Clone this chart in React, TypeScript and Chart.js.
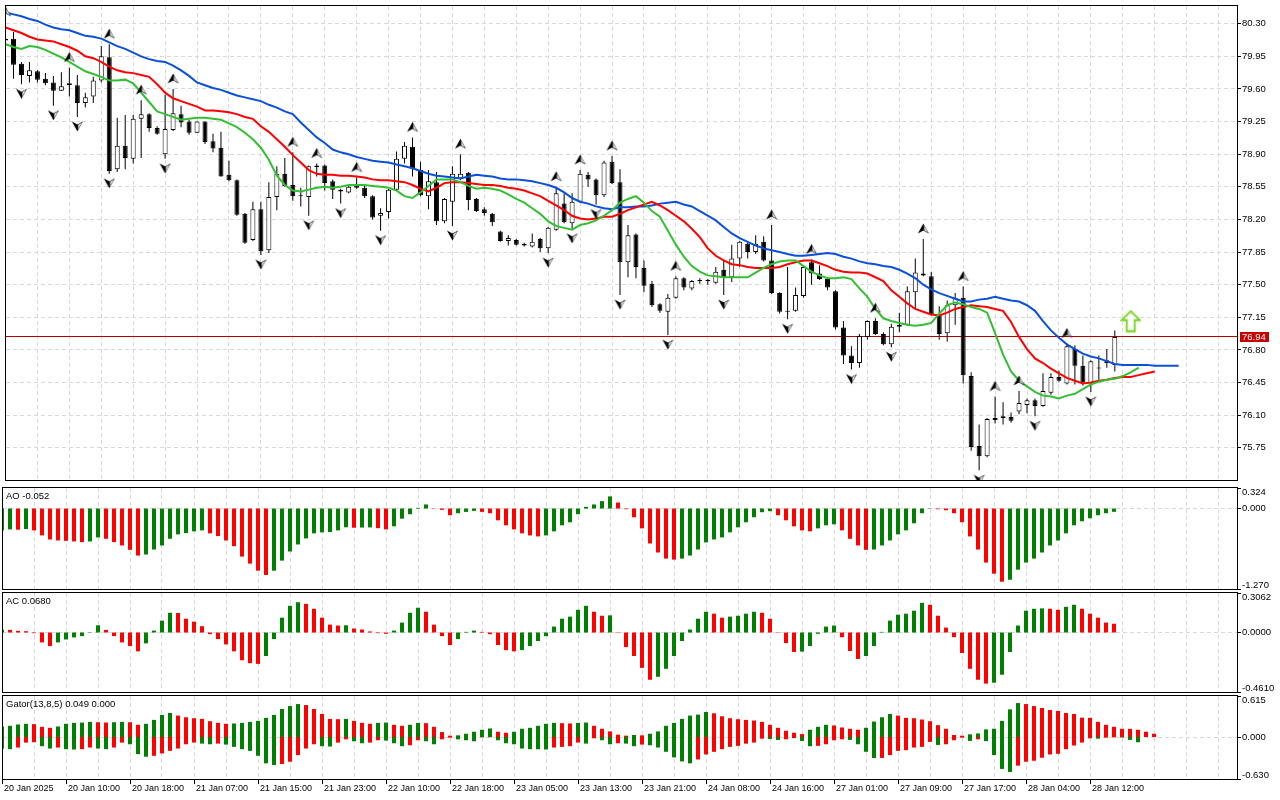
import { useEffect, useRef } from "react"
import { Chart, registerables } from "chart.js"

Chart.register(...registerables)

// hourly bars, 20 Jan 2025 -> 28 Jan 2025 (first bar is cut by the left edge)
const timeLabels = [
  "20 Jan 2025", "20 Jan 10:00", "20 Jan 18:00", "21 Jan 07:00", "21 Jan 15:00", "21 Jan 23:00",
  "22 Jan 10:00", "22 Jan 18:00", "23 Jan 05:00", "23 Jan 13:00", "23 Jan 21:00", "24 Jan 08:00",
  "24 Jan 16:00", "27 Jan 01:00", "27 Jan 09:00", "27 Jan 17:00", "28 Jan 04:00", "28 Jan 12:00",
]

const opens = [
  80.12, 80.14, 79.87, 79.74, 79.79, 79.71, 79.67, 79.58, 79.66, 79.64,
  79.45, 79.52, 79.69, 79.94, 78.74, 78.99, 78.85, 79.28, 79.33, 79.18,
  78.90, 79.16, 79.33, 79.25, 79.13, 79.25, 79.04, 78.97, 78.68, 78.62,
  78.26, 77.98, 78.31, 77.87, 78.44, 78.69, 78.57, 78.45, 78.44, 78.78,
  78.78, 78.61, 78.52, 78.49, 78.57, 78.54, 78.45, 78.24, 78.28, 78.52,
  78.85, 78.98, 78.73, 78.45, 78.60, 78.18, 78.39, 78.64, 78.70, 78.42,
  78.31, 78.26, 78.07, 77.97, 77.98, 77.94, 77.91, 77.99, 77.89, 78.09,
  78.37, 78.16, 78.39, 78.68, 78.63, 78.46, 78.82, 78.60, 77.74, 78.04,
  77.68, 77.51, 77.29, 77.21, 77.36, 77.57, 77.46, 77.55, 77.55, 77.52,
  77.66, 77.58, 77.78, 77.94, 77.85, 77.96, 77.76, 77.41, 77.22, 77.22,
  77.38, 77.74, 77.62, 77.56, 77.43, 77.04, 76.74, 76.66, 76.94, 77.11,
  76.97, 76.86, 77.05, 77.07, 77.42, 77.62, 77.59, 77.18, 76.98, 77.28,
  77.36, 76.52, 75.77, 75.66, 76.05, 76.07, 76.08, 76.14, 76.21, 76.26,
  76.20, 76.34, 76.51, 76.44, 76.81, 76.63, 76.44, 76.60, 76.69, 76.64,
]
const highs = [
  80.32, 80.21, 79.89, 79.89, 79.80, 79.77, 79.74, 79.78, 79.83, 79.75,
  79.56, 79.73, 80.06, 80.08, 79.29, 79.32, 79.32, 79.48, 79.34, 79.20,
  79.54, 79.60, 79.42, 79.27, 79.25, 79.25, 79.12, 79.14, 78.83, 78.63,
  78.27, 78.39, 78.39, 78.60, 78.77, 78.86, 78.92, 78.54, 78.78, 78.80,
  78.79, 78.63, 78.53, 78.57, 78.65, 78.57, 78.46, 78.32, 78.53, 78.93,
  79.03, 79.08, 78.82, 78.73, 78.71, 78.43, 78.77, 78.90, 78.71, 78.43,
  78.33, 78.27, 78.08, 78.03, 77.99, 77.95, 78.05, 78.00, 78.12, 78.55,
  78.48, 78.48, 78.73, 78.71, 78.64, 78.83, 78.88, 78.74, 78.14, 78.05,
  77.76, 77.54, 77.30, 77.40, 77.59, 77.58, 77.55, 77.57, 77.56, 77.69,
  77.76, 77.93, 77.97, 77.95, 78.03, 78.02, 78.14, 77.42, 77.69, 77.47,
  77.70, 77.77, 77.71, 77.57, 77.44, 77.11, 76.84, 76.97, 77.12, 77.14,
  76.99, 77.08, 77.20, 77.48, 77.78, 77.99, 77.64, 77.27, 77.33, 77.41,
  77.48, 76.56, 76.00, 76.07, 76.30, 76.24, 76.13, 76.36, 76.28, 76.28,
  76.55, 76.55, 76.58, 76.87, 76.85, 76.74, 76.69, 76.74, 76.81, 77.01,
]
const lows = [
  80.10, 79.71, 79.65, 79.67, 79.67, 79.64, 79.42, 79.58, 79.52, 79.30,
  79.40, 79.45, 79.67, 78.69, 78.71, 78.74, 78.80, 78.86, 79.14, 79.11,
  78.85, 79.15, 79.19, 79.11, 79.13, 79.01, 78.92, 78.66, 78.61, 78.24,
  77.94, 77.97, 77.82, 77.84, 78.30, 78.55, 78.40, 78.34, 78.24, 78.66,
  78.51, 78.42, 78.37, 78.48, 78.53, 78.43, 78.20, 78.08, 78.21, 78.51,
  78.80, 78.66, 78.45, 78.31, 78.14, 78.16, 78.13, 78.62, 78.30, 78.28,
  78.24, 78.13, 77.96, 77.92, 77.92, 77.91, 77.90, 77.85, 77.84, 78.08,
  78.16, 78.10, 78.38, 78.55, 78.36, 78.44, 78.58, 77.39, 77.58, 77.57,
  77.42, 77.26, 77.20, 76.96, 77.35, 77.44, 77.44, 77.51, 77.50, 77.51,
  77.39, 77.53, 77.69, 77.78, 77.83, 77.75, 77.40, 77.19, 77.13, 77.21,
  77.36, 77.50, 77.55, 77.44, 77.02, 76.65, 76.59, 76.61, 76.91, 76.96,
  76.85, 76.83, 76.99, 77.06, 77.25, 77.59, 77.17, 76.91, 76.89, 77.07,
  76.44, 75.72, 75.51, 75.65, 76.01, 76.00, 76.02, 76.11, 76.12, 76.09,
  76.19, 76.32, 76.46, 76.43, 76.43, 76.42, 76.35, 76.48, 76.61, 76.57,
]
const closes = [
  80.14, 79.86, 79.75, 79.80, 79.70, 79.66, 79.58, 79.63, 79.64, 79.45,
  79.51, 79.69, 79.95, 78.72, 78.99, 78.86, 79.28, 79.33, 79.18, 79.12,
  79.17, 79.34, 79.24, 79.13, 79.25, 79.03, 78.96, 78.66, 78.62, 78.25,
  77.95, 78.31, 77.86, 78.44, 78.69, 78.56, 78.45, 78.46, 78.77, 78.76,
  78.59, 78.52, 78.50, 78.55, 78.54, 78.45, 78.22, 78.27, 78.52, 78.85,
  78.99, 78.75, 78.46, 78.61, 78.18, 78.42, 78.69, 78.69, 78.41, 78.29,
  78.27, 78.17, 77.97, 78.00, 77.93, 77.92, 77.96, 77.89, 78.11, 78.48,
  78.17, 78.39, 78.69, 78.63, 78.46, 78.81, 78.59, 77.74, 78.03, 77.69,
  77.49, 77.28, 77.22, 77.36, 77.57, 77.47, 77.54, 77.54, 77.54, 77.64,
  77.58, 77.78, 77.96, 77.85, 77.94, 77.76, 77.41, 77.21, 77.21, 77.39,
  77.69, 77.62, 77.56, 77.47, 77.04, 76.74, 76.66, 76.95, 77.11, 76.97,
  76.86, 77.05, 77.07, 77.43, 77.63, 77.60, 77.18, 76.97, 77.28, 77.36,
  76.53, 75.76, 75.66, 76.06, 76.07, 76.09, 76.04, 76.23, 76.26, 76.20,
  76.36, 76.51, 76.47, 76.84, 76.63, 76.45, 76.68, 76.61, 76.66, 76.94,
]

// alligator lines as drawn (already shifted 8 / 5 / 3 bars forward)
const jaw = [
  80.42, 80.40, 80.38, 80.35, 80.33, 80.29, 80.26, 80.24, 80.23, 80.20,
  80.17, 80.16, 80.14, 80.10, 80.06, 80.03, 79.99, 79.95, 79.92, 79.90,
  79.89, 79.85, 79.80, 79.74, 79.67, 79.64, 79.61, 79.59, 79.56, 79.53,
  79.51, 79.49, 79.47, 79.43, 79.40, 79.36, 79.33, 79.24, 79.16, 79.08,
  79.02, 78.95, 78.92, 78.90, 78.87, 78.85, 78.83, 78.82, 78.81, 78.79,
  78.77, 78.75, 78.72, 78.69, 78.67, 78.66, 78.65, 78.64, 78.66, 78.68,
  78.67, 78.66, 78.64, 78.63, 78.63, 78.62, 78.61, 78.59, 78.57, 78.54,
  78.49, 78.43, 78.39, 78.37, 78.34, 78.32, 78.31, 78.33, 78.33, 78.34,
  78.34, 78.35, 78.37, 78.38, 78.39, 78.36, 78.34, 78.29, 78.24, 78.19,
  78.12, 78.05, 78.00, 77.96, 77.92, 77.89, 77.87, 77.85, 77.83, 77.81,
  77.81, 77.82, 77.83, 77.84, 77.83, 77.80, 77.78, 77.75, 77.73, 77.72,
  77.70, 77.69, 77.66, 77.62, 77.57, 77.50, 77.45, 77.41, 77.38, 77.35,
  77.32, 77.32, 77.34, 77.35, 77.37, 77.35, 77.33, 77.32, 77.28, 77.22,
  77.11, 77.01, 76.93, 76.86, 76.81, 76.76, 76.73, 76.71, 76.68, 76.65,
  76.64, 76.64, 76.64, 76.64, 76.63, 76.63, 76.63, 76.63,
]
const teeth = [
  80.26, 80.23, 80.20, 80.16, 80.13, 80.12, 80.11, 80.08, 80.05, 80.01,
  79.95, 79.93, 79.89, 79.84, 79.80, 79.78, 79.77, 79.75, 79.73, 79.65,
  79.56, 79.50, 79.47, 79.44, 79.41, 79.37, 79.37, 79.36, 79.35, 79.33,
  79.30, 79.28, 79.20, 79.14, 79.06, 78.98, 78.89, 78.81, 78.73, 78.69,
  78.68, 78.68, 78.67, 78.67, 78.66, 78.65, 78.63, 78.62, 78.62, 78.61,
  78.60, 78.57, 78.53, 78.50, 78.54, 78.59, 78.60, 78.60, 78.59, 78.58,
  78.57, 78.57, 78.56, 78.54, 78.53, 78.51, 78.48, 78.45, 78.40, 78.35,
  78.30, 78.24, 78.21, 78.20, 78.21, 78.23, 78.23, 78.26, 78.30, 78.33,
  78.36, 78.39, 78.35, 78.30, 78.24, 78.18, 78.10, 78.01, 77.89, 77.81,
  77.76, 77.72, 77.71, 77.69, 77.68, 77.68, 77.68, 77.69, 77.72, 77.74,
  77.76, 77.76, 77.73, 77.70, 77.66, 77.64, 77.63, 77.63, 77.62, 77.58,
  77.54, 77.44, 77.37, 77.30, 77.24, 77.21, 77.18, 77.17, 77.20, 77.24,
  77.26, 77.28, 77.27, 77.26, 77.24, 77.22, 77.10, 76.94, 76.81, 76.71,
  76.66, 76.60, 76.55, 76.50, 76.47, 76.44, 76.45, 76.47, 76.48, 76.50,
  76.51, 76.51, 76.53, 76.55, 76.57,
]
const lips = [
  80.08, 80.05, 80.03, 80.06, 80.05, 80.02, 79.98, 79.94, 79.89, 79.84,
  79.79, 79.76, 79.73, 79.69, 79.69, 79.70, 79.66, 79.56, 79.46, 79.36,
  79.33, 79.30, 79.27, 79.28, 79.29, 79.29, 79.28, 79.27, 79.23, 79.19,
  79.13, 79.06, 78.97, 78.84, 78.67, 78.57, 78.51, 78.50, 78.52, 78.54,
  78.55, 78.54, 78.55, 78.57, 78.57, 78.57, 78.56, 78.55, 78.54, 78.51,
  78.45, 78.43, 78.49, 78.56, 78.63, 78.63, 78.63, 78.60, 78.56, 78.53,
  78.54, 78.53, 78.51, 78.47, 78.42, 78.38, 78.32, 78.26, 78.18, 78.13,
  78.11, 78.09, 78.14, 78.16, 78.19, 78.24, 78.30, 78.38, 78.42, 78.45,
  78.38, 78.29, 78.23, 78.08, 77.93, 77.80, 77.70, 77.64, 77.60, 77.59,
  77.58, 77.58, 77.58, 77.58, 77.63, 77.68, 77.72, 77.75, 77.76, 77.76,
  77.70, 77.64, 77.60, 77.57, 77.57, 77.58, 77.56, 77.46, 77.37, 77.24,
  77.14, 77.11, 77.09, 77.07, 77.06, 77.07, 77.09, 77.19, 77.28, 77.31,
  77.29, 77.26, 77.24, 77.20, 76.98, 76.75, 76.57, 76.47, 76.41, 76.35,
  76.31, 76.30, 76.28, 76.31, 76.33, 76.38, 76.43, 76.46, 76.48, 76.49,
  76.52, 76.56, 76.61,
]

const aoValues = [
  -0.345, -0.329, -0.334, -0.323, -0.345, -0.424, -0.488, -0.504, -0.509, -0.519,
  -0.530, -0.519, -0.456, -0.477, -0.530, -0.583, -0.652, -0.742, -0.726, -0.647,
  -0.583, -0.477, -0.408, -0.387, -0.360, -0.345, -0.392, -0.435, -0.504, -0.594,
  -0.758, -0.869, -0.981, -1.049, -0.981, -0.822, -0.678, -0.567, -0.472, -0.392,
  -0.376, -0.371, -0.345, -0.296, -0.303, -0.300, -0.298, -0.310, -0.329, -0.281,
  -0.160, -0.090, 0.011, 0.064, 0.005, -0.021, -0.106, -0.074, -0.053, -0.037,
  -0.053, -0.074, -0.186, -0.265, -0.329, -0.392, -0.424, -0.440, -0.424, -0.360,
  -0.265, -0.217, -0.090, 0.027, 0.064, 0.117, 0.191, 0.095, -0.011, -0.138,
  -0.313, -0.551, -0.694, -0.790, -0.806, -0.790, -0.742, -0.647, -0.535, -0.488,
  -0.456, -0.376, -0.297, -0.217, -0.138, -0.058, -0.042, -0.106, -0.186, -0.281,
  -0.345, -0.360, -0.313, -0.265, -0.249, -0.345, -0.477, -0.583, -0.652, -0.647,
  -0.583, -0.504, -0.408, -0.345, -0.233, -0.074, -0.005, -0.011, -0.027, -0.074,
  -0.217, -0.440, -0.647, -0.853, -1.028, -1.155, -1.124, -0.965, -0.853, -0.790,
  -0.694, -0.583, -0.504, -0.392, -0.265, -0.201, -0.154, -0.106, -0.074, -0.052,
]
const acValues = [
  0.022, 0.020, 0.013, 0.010, -0.005, -0.077, -0.105, -0.077, -0.054, -0.038,
  -0.028, -0.003, 0.056, 0.020, -0.028, -0.077, -0.105, -0.146, -0.084, 0.015,
  0.092, 0.153, 0.151, 0.107, 0.084, 0.049, -0.013, -0.051, -0.092, -0.146,
  -0.215, -0.238, -0.243, -0.182, -0.051, 0.115, 0.207, 0.235, 0.222, 0.184,
  0.115, 0.061, 0.054, 0.056, 0.031, 0.023, 0.008, -0.005, -0.010, 0.015,
  0.077, 0.153, 0.192, 0.161, 0.061, -0.028, -0.097, -0.051, 0.005, 0.015,
  0.005, -0.013, -0.097, -0.136, -0.146, -0.136, -0.105, -0.066, -0.028, 0.046,
  0.107, 0.123, 0.176, 0.207, 0.161, 0.130, 0.133, -0.003, -0.113, -0.182,
  -0.274, -0.366, -0.343, -0.281, -0.182, -0.066, 0.023, 0.107, 0.161, 0.146,
  0.115, 0.123, 0.130, 0.146, 0.161, 0.153, 0.107, -0.003, -0.082, -0.151,
  -0.148, -0.105, -0.010, 0.046, 0.054, -0.036, -0.143, -0.205, -0.182, -0.105,
  0.005, 0.092, 0.138, 0.146, 0.169, 0.230, 0.215, 0.130, 0.038, -0.036,
  -0.159, -0.281, -0.366, -0.396, -0.389, -0.327, -0.151, 0.054, 0.169, 0.184,
  0.187, 0.184, 0.176, 0.199, 0.215, 0.184, 0.146, 0.115, 0.077, 0.068,
]
const gatorUpper = [
  0.158, 0.168, 0.188, 0.198, 0.193, 0.153, 0.138, 0.158, 0.198, 0.212,
  0.217, 0.227, 0.222, 0.217, 0.222, 0.227, 0.222, 0.183, 0.198, 0.257,
  0.331, 0.361, 0.321, 0.296, 0.282, 0.272, 0.237, 0.212, 0.198, 0.203,
  0.212, 0.227, 0.242, 0.287, 0.331, 0.420, 0.464, 0.494, 0.479, 0.420,
  0.346, 0.272, 0.267, 0.272, 0.242, 0.212, 0.198, 0.212, 0.217, 0.183,
  0.168, 0.183, 0.212, 0.207, 0.153, 0.074, 0.020, 0.025, 0.049, 0.079,
  0.109, 0.128, 0.079, 0.064, 0.079, 0.124, 0.138, 0.168, 0.198, 0.212,
  0.207, 0.203, 0.212, 0.217, 0.168, 0.124, 0.084, 0.035, 0.020, 0.030,
  0.025, 0.049, 0.084, 0.168, 0.212, 0.272, 0.321, 0.336, 0.375, 0.356,
  0.311, 0.282, 0.267, 0.257, 0.247, 0.227, 0.183, 0.138, 0.094, 0.064,
  0.044, 0.109, 0.153, 0.183, 0.173, 0.143, 0.124, 0.109, 0.138, 0.232,
  0.296, 0.346, 0.321, 0.287, 0.282, 0.262, 0.237, 0.178, 0.124, 0.030,
  0.020, 0.040, 0.054, 0.114, 0.124, 0.242, 0.415, 0.509, 0.494, 0.464,
  0.435, 0.405, 0.390, 0.361, 0.346, 0.291, 0.287, 0.227, 0.183, 0.153,
  0.124, 0.123, 0.109, 0.079, 0.049,
]
const gatorLower = [
  -0.175, -0.183, -0.158, -0.084, -0.079, -0.138, -0.173, -0.158, -0.183, -0.188,
  -0.183, -0.158, -0.173, -0.183, -0.158, -0.084, -0.109, -0.257, -0.296, -0.282,
  -0.247, -0.208, -0.173, -0.109, -0.084, -0.099, -0.109, -0.099, -0.114, -0.148,
  -0.183, -0.208, -0.282, -0.395, -0.420, -0.405, -0.371, -0.272, -0.173, -0.109,
  -0.138, -0.143, -0.084, -0.035, -0.064, -0.094, -0.084, -0.049, -0.054, -0.094,
  -0.138, -0.124, -0.049, -0.064, -0.109, -0.035, -0.010, -0.035, -0.049, -0.064,
  -0.005, -0.003, -0.049, -0.094, -0.109, -0.173, -0.183, -0.184, -0.188, -0.158,
  -0.148, -0.138, -0.084, -0.099, -0.020, -0.049, -0.109, -0.094, -0.099, -0.138,
  -0.114, -0.124, -0.158, -0.222, -0.306, -0.366, -0.395, -0.336, -0.262, -0.222,
  -0.183, -0.148, -0.133, -0.099, -0.084, -0.025, -0.030, -0.044, -0.035, -0.015,
  -0.059, -0.138, -0.133, -0.109, -0.049, -0.035, -0.044, -0.109, -0.222, -0.316,
  -0.314, -0.272, -0.208, -0.198, -0.158, -0.148, -0.074, -0.119, -0.109, -0.049,
  -0.010, -0.059, -0.035, -0.062, -0.271, -0.479, -0.524, -0.430, -0.371, -0.356,
  -0.311, -0.262, -0.252, -0.183, -0.128, -0.084, -0.020, -0.025, -0.010, -0.005,
  -0.008, -0.044, -0.079,
]

const upFractals = [0, 8, 13, 17, 21, 36, 39, 44, 51, 57, 69, 72, 76, 84, 96, 101, 109, 115, 120, 124, 127, 133]
const downFractals = [2, 6, 9, 13, 20, 32, 38, 42, 47, 56, 68, 71, 74, 77, 83, 90, 98, 106, 111, 122, 129, 136]
const signalBar = 141
const signalPrice = 77.11

const priceTicks = [80.3, 79.95, 79.6, 79.25, 78.9, 78.55, 78.2, 77.85, 77.5, 77.15, 76.8, 76.45, 76.1, 75.75]
const priceRange = [75.405, 80.49]
const aoRange = [-1.27, 0.324]
const acRange = [-0.461, 0.3062]
const gatorRange = [-0.63, 0.615]
const gatorTitle = "Gator(13,8,5) 0.049 0.000"

const GREEN = "#008000"
const RED = "#ff0000"
const JAW = "#0a50dc"
const TEETH = "#ff0000"
const LIPS = "#32c032"
const FONT = '"Liberation Sans", Arial, sans-serif'

function trendColors(values: number[], magnitude: boolean) {
  const out: string[] = []
  values.forEach((v, i) => {
    if (i === 0) {
      out.push(GREEN)
      return
    }
    const a = magnitude ? Math.abs(v) : v
    const b = magnitude ? Math.abs(values[i - 1]) : values[i - 1]
    out.push(a > b ? GREEN : a < b ? RED : out[i - 1])
  })
  return out
}

// small MT4-style fractal arrowhead, offset from the high/low it marks
function fractalArrow(up: boolean) {
  const c = document.createElement("canvas")
  c.width = 13
  c.height = 40
  const g = c.getContext("2d")!
  const cx = 6.5
  const cy = up ? 10 : 29
  const s = up ? 1 : -1
  // whole head in black
  g.beginPath()
  g.moveTo(cx, cy - 5.5 * s)
  g.lineTo(cx + 5.5, cy + 4.5 * s)
  g.lineTo(cx, cy + 1.5 * s)
  g.lineTo(cx - 5.5, cy + 4.5 * s)
  g.closePath()
  g.fillStyle = "#000"
  g.fill()
  // light right wing
  g.beginPath()
  g.moveTo(cx + 0.8, cy - 3.5 * s)
  g.lineTo(cx + 4.6, cy + 3.6 * s)
  g.lineTo(cx + 0.8, cy + 1.2 * s)
  g.closePath()
  g.fillStyle = "#dcdcdc"
  g.fill()
  return c
}

function signalArrow() {
  const c = document.createElement("canvas")
  c.width = 21
  c.height = 23
  const g = c.getContext("2d")!
  g.beginPath()
  g.moveTo(10.5, 1.5)
  g.lineTo(19.5, 10.5)
  g.lineTo(14.5, 10.5)
  g.lineTo(14.5, 21.5)
  g.lineTo(6.5, 21.5)
  g.lineTo(6.5, 10.5)
  g.lineTo(1.5, 10.5)
  g.closePath()
  g.fillStyle = "#fff"
  g.fill()
  g.strokeStyle = "#e8f59a"
  g.lineWidth = 3
  g.stroke()
  g.strokeStyle = "#5ccf2e"
  g.lineWidth = 1.3
  g.stroke()
  return c
}

type Deco = {
  ticks: number[]
  digits: number
  clamp: boolean
  hGrid: number[]
  title?: string
  priceTag?: number
  timeAxis?: boolean
}

function decoPlugin(d: Deco) {
  return {
    id: "mtDeco",
    beforeDatasetsDraw(chart: any) {
      const { ctx, chartArea: a, scales } = chart
      ctx.save()
      ctx.strokeStyle = "#d9d9d9"
      ctx.lineWidth = 1
      ctx.setLineDash([4, 3])
      ctx.beginPath()
      for (let n = 4; n <= scales.x.max; n += 4) {
        const px = Math.floor(scales.x.getPixelForValue(n)) + 0.5
        ctx.moveTo(px, a.top)
        ctx.lineTo(px, a.bottom)
      }
      d.hGrid.forEach((v) => {
        const py = Math.floor(scales.y.getPixelForValue(v)) + 0.5
        ctx.moveTo(a.left, py)
        ctx.lineTo(a.right, py)
      })
      ctx.stroke()
      ctx.setLineDash([])
      if (d.priceTag !== undefined) {
        const py = Math.floor(scales.y.getPixelForValue(d.priceTag)) + 0.5
        ctx.strokeStyle = "#b40000"
        ctx.beginPath()
        ctx.moveTo(a.left, py)
        ctx.lineTo(a.right, py)
        ctx.stroke()
      }
      ctx.restore()
    },
    afterDraw(chart: any) {
      const { ctx, chartArea: a, scales } = chart
      ctx.save()
      ctx.strokeStyle = "#000"
      ctx.lineWidth = 1
      ctx.strokeRect(a.left - 0.5, a.top - 0.5, a.right - a.left + 1, a.bottom - a.top + 1)
      ctx.font = `9.5px ${FONT}`
      ctx.fillStyle = "#000"
      ctx.textAlign = "left"
      ctx.textBaseline = "middle"
      d.ticks.forEach((v) => {
        const p = scales.y.getPixelForValue(v)
        const ty = Math.floor(p) + 0.5
        ctx.beginPath()
        ctx.moveTo(a.right + 1, ty)
        ctx.lineTo(a.right + 4, ty)
        ctx.stroke()
        const ly = d.clamp ? Math.min(Math.max(p, a.top + 4), a.bottom - 4) : p
        ctx.fillText(v.toFixed(d.digits), a.right + 5, ly)
      })
      if (d.priceTag !== undefined) {
        const p = scales.y.getPixelForValue(d.priceTag)
        ctx.fillStyle = "#c80000"
        ctx.fillRect(a.right + 3, Math.round(p) - 5, 29, 10)
        ctx.fillStyle = "#fff"
        ctx.fillText(d.priceTag.toFixed(2), a.right + 5, p)
      }
      if (d.title) {
        ctx.fillStyle = "#000"
        ctx.fillText(d.title, 6, a.top + 8)
      }
      if (d.timeAxis) {
        ctx.font = `9px ${FONT}`
        ctx.fillStyle = "#000"
        timeLabels.forEach((label, k) => {
          const px = Math.floor(scales.x.getPixelForValue(k * 8))
          ctx.beginPath()
          ctx.moveTo(px + 0.5, a.bottom + 1)
          ctx.lineTo(px + 0.5, a.bottom + 5)
          ctx.stroke()
          ctx.fillText(label, px + 2, a.bottom + 10)
        })
      }
      ctx.restore()
    },
  }
}

function baseOptions(xMin: number, xMax: number, range: number[], padding: any) {
  return {
    animation: false,
    responsive: false,
    events: [],
    layout: { padding },
    plugins: { legend: { display: false }, tooltip: { enabled: false } },
    scales: {
      x: { type: "linear", display: false, min: xMin, max: xMax, offset: false },
      y: { type: "linear", display: false, min: range[0], max: range[1] },
    },
  }
}

function lineSet(values: number[], color: string, order: number) {
  return {
    type: "line",
    data: values.map((v, n) => ({ x: n, y: v })),
    borderColor: color,
    borderWidth: 2,
    pointRadius: 0,
    tension: 0,
    fill: false,
    order,
  }
}

function buildMain() {
  const bars = opens.map((_, n) => n)
  return {
    type: "bar",
    data: {
      datasets: [
        { type: "scatter", data: upFractals.map((n) => ({ x: n, y: highs[n] })), pointStyle: fractalArrow(true), pointRadius: 5, order: 0 },
        { type: "scatter", data: downFractals.map((n) => ({ x: n, y: lows[n] })), pointStyle: fractalArrow(false), pointRadius: 5, order: 0 },
        { type: "scatter", data: [{ x: signalBar, y: signalPrice }], pointStyle: signalArrow(), pointRadius: 5, order: 0 },
        lineSet(lips, LIPS, 1),
        lineSet(teeth, TEETH, 2),
        lineSet(jaw, JAW, 3),
        {
          type: "bar",
          data: bars.map((n) => ({ x: n, y: [opens[n], closes[n]] })),
          backgroundColor: bars.map((n) => (closes[n] >= opens[n] ? "#fff" : "#000")),
          borderColor: "#000",
          borderWidth: 1,
          borderSkipped: false,
          barThickness: 5,
          maxBarThickness: 5,
          minBarLength: 1,
          inflateAmount: 0,
          grouped: false,
          order: 5,
        },
        {
          type: "bar",
          data: bars.map((n) => ({ x: n, y: [lows[n], highs[n]] })),
          backgroundColor: "#000",
          barThickness: 1,
          maxBarThickness: 1,
          inflateAmount: 0,
          grouped: false,
          order: 6,
        },
      ],
    },
    options: baseOptions(0.0625, 154.3125, priceRange, { left: 3, right: 43, top: 3, bottom: 1 }),
    plugins: [
      decoPlugin({ ticks: priceTicks, digits: 2, clamp: false, hGrid: priceTicks, priceTag: closes[closes.length - 1] }),
    ],
  }
}

function buildHist(series: number[][], magnitude: boolean, range: number[], deco: Deco, bottom: number) {
  return {
    type: "bar",
    data: {
      datasets: series.map((vals) => ({
        type: "bar",
        data: vals.map((v, n) => ({ x: n, y: v })),
        backgroundColor: trendColors(vals, magnitude),
        barThickness: 4,
        maxBarThickness: 4,
        inflateAmount: 0,
        grouped: false,
      })),
    },
    options: baseOptions(0.125, 154.375, range, { left: 3, right: 43, top: 1, bottom }),
    plugins: [decoPlugin(deco)],
  }
}

function Panel({ top, height, build }: { top: number; height: number; build: () => any }) {
  const canvasRef = useRef<HTMLCanvasElement>(null)
  const chartRef = useRef<Chart | null>(null)

  useEffect(() => {
    if (!canvasRef.current) return
    if (chartRef.current) chartRef.current.destroy()
    chartRef.current = new Chart(canvasRef.current, build())
    return () => {
      if (chartRef.current) {
        chartRef.current.destroy()
        chartRef.current = null
      }
    }
  }, [])

  return (
    <canvas
      ref={canvasRef}
      width={1280}
      height={height}
      style={{ position: "absolute", left: 0, top, width: 1280, height }}
    />
  )
}

const lastAO = aoValues[aoValues.length - 1]
const lastAC = acValues[acValues.length - 1]

export default function App() {
  return (
    <div style={{ position: "fixed", left: 0, top: 0, width: 1280, height: 800, background: "#fff", overflow: "hidden" }}>
      <Panel top={0} height={486} build={buildMain} />
      <Panel
        top={487}
        height={103}
        build={() =>
          buildHist([aoValues], false, aoRange, { ticks: [aoRange[1], 0, aoRange[0]], digits: 3, clamp: true, hGrid: [0], title: `AO ${lastAO.toFixed(3)}` }, 1)
        }
      />
      <Panel
        top={592}
        height={101}
        build={() =>
          buildHist([acValues], false, acRange, { ticks: [acRange[1], 0, acRange[0]], digits: 4, clamp: true, hGrid: [0], title: `AC ${lastAC.toFixed(4)}` }, 1)
        }
      />
      <Panel
        top={695}
        height={105}
        build={() =>
          buildHist([gatorUpper, gatorLower], true, gatorRange, { ticks: [gatorRange[1], 0, gatorRange[0]], digits: 3, clamp: true, hGrid: [0], title: gatorTitle, timeAxis: true }, 21)
        }
      />
    </div>
  )
}
